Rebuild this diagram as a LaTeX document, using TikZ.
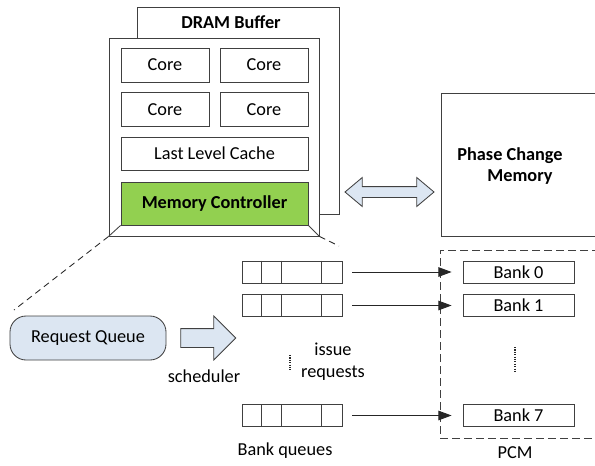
\documentclass[tikz,border=0pt]{standalone}
\usepackage{fontspec}
\setmainfont{Carlito}
\usetikzlibrary{positioning, arrows.meta, shapes.arrows}
\definecolor{mcgreen}{HTML}{92D050}
\definecolor{qfill}{HTML}{DCE6F2}

\begin{document}
\begin{tikzpicture}[
  x=0.25mm, y=-0.25mm,
  font=\fontsize{13}{15.6}\selectfont,
  box/.style={draw=black!75, semithick, fill=white, inner sep=0pt},
  core/.style={box, minimum width=22mm, minimum height=8.5mm},
  wide/.style={box, minimum width=46.75mm, minimum height=8.25mm},
  bq/.style={box, minimum width=25mm, minimum height=5.5mm},
  bank/.style={box, minimum width=27.75mm, minimum height=5.5mm},
  bold/.style={font=\fontsize{13}{15.6}\selectfont\bfseries},
  queue/.style={box, fill=qfill, rounded corners=4mm, minimum width=39mm, minimum height=11mm},
  fat/.style={draw=black!75, semithick, fill=qfill, inner xsep=0pt},
  frame/.style={draw=black!75, semithick, dash pattern=on 2mm off 1mm, minimum width=40mm, minimum height=47mm},
  zoomline/.style={black!85, semithick, dash pattern=on 1.6mm off 1.1mm},
  dots/.style={black!85, line width=1.1pt, dash pattern=on 0.8pt off 0.9pt},
  arr/.style={-{Triangle[length=3.3mm, width=2.4mm]}, black!85, semithick}
]
\clip (0,0) rectangle (595,465);

% --- processor chip with DRAM buffer behind ---
\node[box, minimum width=50.5mm, minimum height=51.75mm] (back) at (238,110.5) {};
\node[bold] (dram) at (231,22) {DRAM Buffer};
\node[box, minimum width=52.5mm, minimum height=49.5mm] (chip) at (214,137) {};
\node[core] (c1) at (165,65) {Core};
\node[core] (c2) at (264,65) {Core};
\node[core] (c3) at (165,109.5) {Core};
\node[core] (c4) at (264,109.5) {Core};
\node[wide] (llc) at (214.5,153.5) {Last Level Cache};
\node[wide, bold, fill=mcgreen, minimum height=10.75mm] (mc) at (214.5,203.5) {Memory Controller\hspace{4mm}};
\draw[black!75, semithick] (chip.south west) -- (mc.south west);
\draw[black!75, semithick] (chip.south east) -- (mc.south east);

% --- main memory ---
\node[box, minimum width=39.75mm, minimum height=35.75mm] (pcm) at (520.5,164.5) {};
\node[bold, align=center] (pcmtxt) at (510,166) {Phase Change\\\hspace{5mm}Memory};
\node[fat, double arrow, inner ysep=1.25mm, double arrow head extend=2.25mm, double arrow tip angle=80,
      minimum height=22.25mm] (link) at (389.5,192) {};

% --- zoom into the memory controller ---
\coordinate (zl) at (14,310);
\coordinate (zr) at (339,246);
\draw[zoomline] (chip.south west) -- (zl);
\draw[zoomline] (chip.south east) -- (zr);

\node[queue] (rq) at (88,338) {Request Queue\hspace{4mm}};
\node[fat, single arrow, inner ysep=2.25mm, single arrow head extend=3.125mm,
      minimum height=13.75mm] (sch) at (203.5,338) {};
\node (schtxt) at (204,376) {scheduler};

% bank queues
\node[bq] (q0) at (292,272) {};
\node[bq] (q1) at (292,305.5) {};
\node[bq] (q7) at (292,415.5) {};
\draw[black!75, semithick] ([xshift=5mm]q0.north west) -- ([xshift=5mm]q0.south west);
\draw[black!75, semithick] ([xshift=10mm]q0.north west) -- ([xshift=10mm]q0.south west);
\draw[black!75, semithick] ([xshift=20mm]q0.north west) -- ([xshift=20mm]q0.south west);
\draw[black!75, semithick] ([xshift=5mm]q1.north west) -- ([xshift=5mm]q1.south west);
\draw[black!75, semithick] ([xshift=10mm]q1.north west) -- ([xshift=10mm]q1.south west);
\draw[black!75, semithick] ([xshift=20mm]q1.north west) -- ([xshift=20mm]q1.south west);
\draw[black!75, semithick] ([xshift=5mm]q7.north west) -- ([xshift=5mm]q7.south west);
\draw[black!75, semithick] ([xshift=10mm]q7.north west) -- ([xshift=10mm]q7.south west);
\draw[black!75, semithick] ([xshift=20mm]q7.north west) -- ([xshift=20mm]q7.south west);
\draw[dots] (290,355) -- (290,371);
\node[align=center] (issue) at (333,362) {issue\\requests};
\node (bqtxt) at (285,451) {Bank queues};

% --- PCM banks ---
\node[frame] (pcmframe) at (520,344) {};
\node (pcmlbl) at (515,453) {PCM};
\node[bank] (b0) at (518.5,272) {Bank 0};
\node[bank] (b1) at (518.5,305.5) {Bank 1};
\node[bank] (b7) at (518.5,415.5) {Bank 7};
\draw[dots] (515,347) -- (515,372);
\draw[arr, shorten <=2.5mm, shorten >=2.75mm] (q0) -- (b0);
\draw[arr, shorten <=2.5mm, shorten >=2.75mm] (q1) -- (b1);
\draw[arr, shorten <=2.5mm, shorten >=2.75mm] (q7) -- (b7);
\end{tikzpicture}
\end{document}
